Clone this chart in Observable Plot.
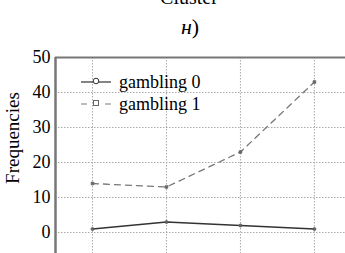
<!DOCTYPE html>
<html><head><meta charset="utf-8">
<script src="https://cdn.jsdelivr.net/npm/d3@7"></script>
<script src="https://cdn.jsdelivr.net/npm/@observablehq/plot@0.6"></script>
<style>
body{margin:0;background:#fff;}
#wrap{position:relative;width:345px;height:253px;overflow:hidden;font-family:"Liberation Serif",serif;color:#000;}
#wrap svg.plot{position:absolute;left:0;top:0;}
.t{position:absolute;white-space:nowrap;}
</style></head>
<body><div id="wrap"></div>
<script>
const categories = ["1", "2", "3", "4"];
const gambling0 = [1, 3, 2, 1];
const gambling1 = [14, 13, 23, 43];
const yTicks = [0, 10, 20, 30, 40, 50];
const seriesNames = ["gambling 0", "gambling 1"];

const data = [];
categories.forEach((c, i) => {
  data.push({cat: c, i, v: gambling0[i], s: seriesNames[0]});
  data.push({cat: c, i, v: gambling1[i], s: seriesNames[1]});
});
const idx = categories.map((c, i) => i);

const chart = Plot.plot({
  width: 345, height: 253,
  marginTop: 57, marginBottom: 0, marginLeft: 55, marginRight: 0,
  style: {fontFamily: "Liberation Serif, serif", fontSize: "18px", color: "#000", background: "transparent"},
  x: {domain: [-0.5, 3.42], axis: null},
  y: {domain: [-6, 50], ticks: yTicks, tickSize: 0, tickPadding: 5, label: null},
  marks: [
    Plot.ruleY(yTicks.filter(d => d < 50), {stroke: "#aaa", strokeDasharray: "1.5,1.5", strokeWidth: 1}),
    Plot.ruleX(idx, {x: d => d, stroke: "#aaa", strokeDasharray: "1.5,1.5", strokeWidth: 1}),
    Plot.ruleY([50], {stroke: "#777", strokeWidth: 2}),
    Plot.ruleX([-0.5], {x: d => d, stroke: "#777", strokeWidth: 2.5}),
    Plot.line(data.filter(d => d.s === seriesNames[0]), {x: "i", y: "v", stroke: "#333", strokeWidth: 1.3}),
    Plot.line(data.filter(d => d.s === seriesNames[1]), {x: "i", y: "v", stroke: "#777", strokeWidth: 1.3, strokeDasharray: "6,5"}),
    Plot.dot(data.filter(d => d.s === seriesNames[0]), {x: "i", y: "v", r: 1.5, fill: "#666", stroke: "#555", strokeWidth: 0.8, symbol: "circle"}),
    Plot.dot(data.filter(d => d.s === seriesNames[1]), {x: "i", y: "v", r: 1.5, fill: "#666", stroke: "#666", strokeWidth: 0.8, symbol: "square"})
  ]
});
chart.classList.add("plot");
const wrap = document.getElementById("wrap");
wrap.appendChild(chart);

function addText(html, css) {
  const d = document.createElement("div");
  d.className = "t";
  d.innerHTML = html;
  Object.assign(d.style, css);
  wrap.appendChild(d);
}
addText("Cluster", {left: "189px", top: "-15px", fontSize: "20px", lineHeight: "24px", transform: "translateX(-50%)"});
addText('<span style="font-style:italic;font-family:\'Liberation Serif\',serif">н</span>)', {left: "190px", top: "14px", fontSize: "22px", lineHeight: "26px", transform: "translateX(-50%)"});
addText("Frequencies", {left: "13px", top: "138px", fontSize: "19px", transform: "translate(-50%,-50%) rotate(-90deg)"});

// legend
const leg = document.createElement("div");
leg.className = "t";
leg.style.left = "80px"; leg.style.top = "71px"; leg.style.fontSize = "18px"; leg.style.lineHeight = "22px";
leg.innerHTML = seriesNames.map((n, k) => `<div style="display:flex;align-items:center;">
<svg width="34" height="22"><line x1="1" x2="31" y1="11" y2="11" stroke="${k ? '#777' : '#333'}" stroke-width="1.2" ${k ? 'stroke-dasharray="6,6"' : ''}/>
${k ? '<rect x="13.5" y="7.5" width="5" height="5" fill="#fff" stroke="#666"/>' : '<circle cx="16" cy="10" r="2.8" fill="#fff" stroke="#333"/>'}</svg>
<span style="margin-left:5px">${n}</span></div>`).join("");
wrap.appendChild(leg);
</script></body></html>
